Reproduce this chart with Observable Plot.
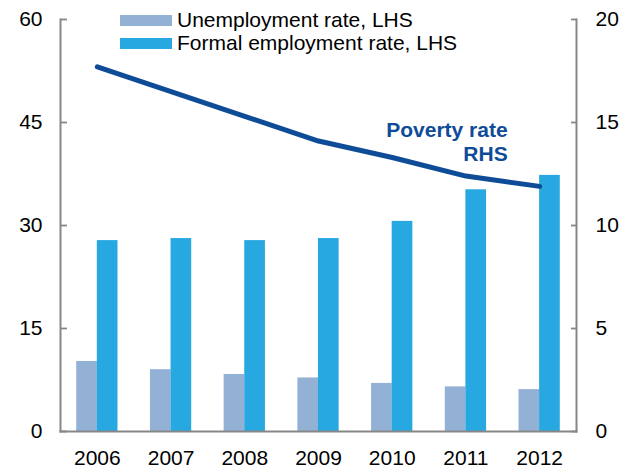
<!DOCTYPE html>
<html>
<head>
<meta charset="utf-8">
<script src="https://cdn.jsdelivr.net/npm/d3@7"></script>
<script src="https://cdn.jsdelivr.net/npm/@observablehq/plot@0.6"></script>
<style>
  html, body { margin: 0; padding: 0; background: #fff; }
  #wrap { position: relative; width: 631px; height: 468px; font-family: "Liberation Sans", Arial, sans-serif; }
  #wrap svg { position: absolute; left: 0; top: 0; }
  .leg { position: absolute; font-size: 21px; line-height: 21px; color: #000; white-space: nowrap; }
  .sw { position: absolute; width: 52px; height: 11px; }
</style>
</head>
<body>
<div id="wrap"></div>
<script>
const years = ["2006", "2007", "2008", "2009", "2010", "2011", "2012"];
const unemployment = [10.2, 9.0, 8.3, 7.8, 7.0, 6.5, 6.1];
const formalEmployment = [27.8, 28.1, 27.8, 28.1, 30.6, 35.2, 37.3];
const povertyRate = [17.7, 16.5, 15.3, 14.1, 13.3, 12.4, 11.9];
const leftTicks = [0, 15, 30, 45, 60];
const rightTicks = [0, 5, 10, 15, 20];
const seriesNames = ["Unemployment rate, LHS", "Formal employment rate, LHS"];
const colors = ["#93b1d5", "#28a8e0"];
const lineColor = "#0f4c98";
const rightScale = 3; // RHS 0–20 mapped onto LHS 0–60

const unempRows = years.map((y, i) => ({year: y, value: unemployment[i]}));
const formalRows = years.map((y, i) => ({year: y, value: formalEmployment[i]}));
const povRows = years.map((y, i) => ({year: y, value: povertyRate[i] * rightScale}));

const font = "Liberation Sans, Arial, sans-serif";

const chart = Plot.plot({
  width: 631,
  height: 468,
  marginLeft: 60,
  marginRight: 55,
  marginTop: 19,
  marginBottom: 37,
  style: {fontFamily: font, fontSize: "21px", color: "#000", background: "#fff"},
  x: {domain: years, paddingInner: 0.44, paddingOuter: 0.22, round: false, axis: null},
  y: {domain: [0, 60], axis: null},
  marks: [
    Plot.barY(unempRows, {x: "year", y: "value", fill: colors[0], insetRight: 20.6}),
    Plot.barY(formalRows, {x: "year", y: "value", fill: colors[1], insetLeft: 20.6}),
    Plot.frame({anchor: "left", stroke: "#878787", strokeWidth: 2}),
    Plot.frame({anchor: "right", stroke: "#878787", strokeWidth: 2}),
    Plot.frame({anchor: "bottom", stroke: "#878787", strokeWidth: 2}),
    Plot.axisY({anchor: "left", ticks: leftTicks, tickSize: -7, tickPadding: 25, stroke: "#878787", strokeWidth: 1.8, strokeOpacity: 1, label: null, fontSize: 21, fill: "#000"}),
    Plot.axisY({anchor: "right", ticks: rightTicks.map(d => d * rightScale), tickFormat: d => d / rightScale, tickSize: -6, tickPadding: 25, stroke: "#878787", strokeWidth: 1.8, strokeOpacity: 1, label: null, fontSize: 21, fill: "#000"}),
    Plot.axisX({anchor: "bottom", tickSize: 0, tickPadding: 19, label: null, fontSize: 21, fill: "#000"}),
    Plot.line(povRows, {x: "year", y: "value", stroke: lineColor, strokeWidth: 5, strokeLinecap: "round", strokeLinejoin: "round"}),
    Plot.text(povRows.slice(-1), {x: "year", y: "value", text: () => "Poverty rate\nRHS", textAnchor: "end", lineAnchor: "middle", lineHeight: 1.143, dx: -32, dy: -45, fill: lineColor, fontWeight: "bold", fontSize: 21})
  ]
});

const wrap = document.getElementById("wrap");
wrap.appendChild(chart);

const legendTops = [15, 38];
seriesNames.forEach((name, i) => {
  const sw = document.createElement("div");
  sw.className = "sw";
  sw.style.left = "120px";
  sw.style.top = legendTops[i] + "px";
  sw.style.background = colors[i];
  wrap.appendChild(sw);
  const t = document.createElement("div");
  t.className = "leg";
  t.style.left = "177px";
  t.style.top = (legendTops[i] - 6) + "px";
  t.textContent = name;
  wrap.appendChild(t);
});
</script>
</body>
</html>
